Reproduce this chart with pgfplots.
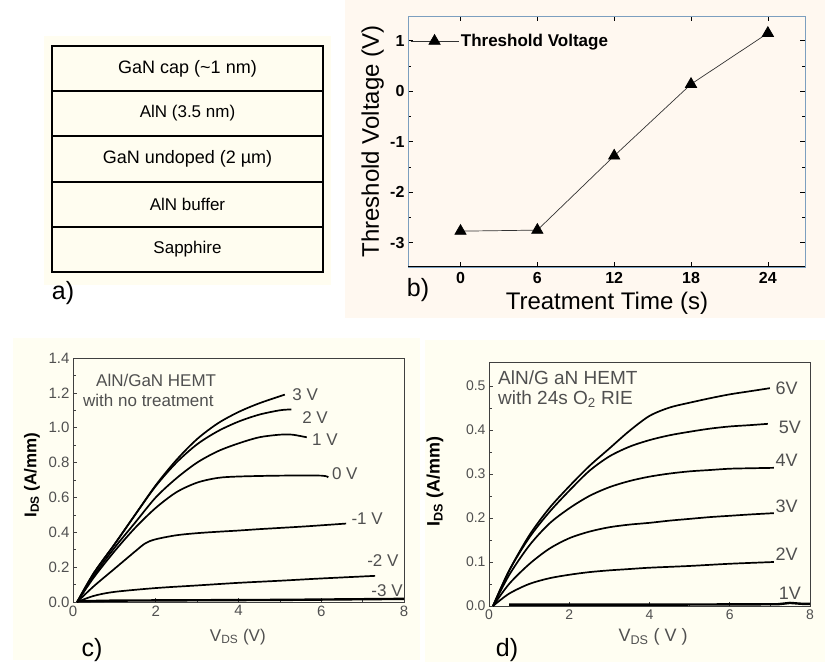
\documentclass[border=0pt]{standalone}
\usepackage{pgfplots}
\pgfplotsset{compat=1.18}
\usepackage{fontspec}
\setmainfont{Liberation Sans}
\newcommand\fs[1]{\fontsize{#1}{#1}\selectfont}
\definecolor{creamA}{HTML}{FFFDF0}
\definecolor{creamB}{HTML}{FFF8F0}
\definecolor{creamC}{HTML}{FFFEF2}
\definecolor{axblue}{HTML}{7C9FBF}
\definecolor{tickgray}{HTML}{505050}
\pgfplotsset{iv/.style={black, line width=1.7pt, smooth, tension=0.5, no markers, solid}}
\begin{document}
\begin{tikzpicture}
% canvas
\fill[white] (0pt,0pt) rectangle (825pt,670pt);
\fill[creamA] (44pt,385pt) rectangle (331pt,634pt);
\fill[creamB] (345pt,352pt) rectangle (825pt,670pt);
\fill[creamC] (13pt,10pt) rectangle (420pt,332pt);
\fill[creamC] (425pt,8pt) rectangle (825pt,330pt);
% ---------- panel a (layer stack) ----------
\draw[line width=1.3pt] (52pt,398pt) rectangle (323pt,624pt);
\draw[line width=1.3pt] (52pt,579pt) -- (323pt,579pt);
\draw[line width=2pt] (52pt,534pt) -- (323pt,534pt);
\draw[line width=1.3pt] (52pt,488pt) -- (323pt,488pt);
\draw[line width=1.3pt] (52pt,443pt) -- (323pt,443pt);
\node[font=\fs{18}] at (187.5pt,601.5pt) {GaN cap (\textasciitilde1 nm)};
\node[font=\fs{17}] at (187.5pt,556.5pt) {AlN (3.5 nm)};
\node[font=\fs{18}] at (187.5pt,511pt) {GaN undoped (2 µm)};
\node[font=\fs{17}] at (187.5pt,465.5pt) {AlN buffer};
\node[font=\fs{17}] at (187.5pt,420.5pt) {Sapphire};
\node[font=\fs{25}] at (63pt,377pt) {a)};
% ---------- panel b ----------
\begin{axis}[at={(408pt,403pt)}, anchor=south west, scale only axis,
  width=397pt, height=251pt,
  xmin=-4.1, xmax=26.9, ymin=-3.48, ymax=1.49,
  xtick={0,6,12,18,24}, ytick={-3,-2,-1,0,1}, minor y tick num=1,
  tick align=inside, major tick length=5pt, minor tick length=3pt,
  axis line style={draw=axblue, line width=0.8pt},
  every tick/.style={black, line width=0.6pt},
  /pgf/number format/assume math mode=true,
  ticklabel style={font=\fs{16}\bfseries},
  xticklabel style={yshift=-2pt},
  xlabel={Treatment Time (s)}, ylabel={Threshold Voltage (V)},
  label style={font=\fs{24}},
  x label style={at={(axis description cs:0.501,-0.143)}, anchor=center},
  y label style={at={(axis description cs:-0.089,0.5)}, anchor=center},
  legend style={draw=none, fill=none, at={(0.0,0.9)}, anchor=west,
    font=\fs{17}\bfseries, inner xsep=2pt},
  legend cell align=left,
  legend image code/.code={\draw[mark repeat=2,mark phase=2] plot coordinates {(0pt,0pt) (24pt,0pt) (48pt,0pt)};},
]
\draw[black, line width=1pt] (rel axis cs:0,0) -- (rel axis cs:1,0);
\addplot[black!80, line width=0.7pt, mark=triangle*, mark size=6.5pt,
  mark options={solid, fill=black, draw=black}]
  coordinates {(0,-2.77) (6,-2.75) (12,-1.28) (18,0.14) (24,1.15)};
\addlegendentry{Threshold Voltage}
\end{axis}
\node[font=\fs{25}] at (418pt,380pt) {b)};
% ---------- panel c ----------
\begin{axis}[at={(73pt,68pt)}, anchor=south west, scale only axis,
  width=331pt, height=244pt,
  xmin=0, xmax=8, ymin=0, ymax=1.4,
  xtick={0,2,4,6,8}, ytick={0,0.2,0.4,0.6,0.8,1.0,1.2,1.4},
  minor x tick num=1, minor y tick num=1, tick pos=left,
  tick align=inside, major tick length=4pt, minor tick length=2.5pt,
  axis line style={draw=black!75, line width=0.9pt},
  every tick/.style={black!75, line width=0.6pt},
  /pgf/number format/assume math mode=true,
  ticklabel style={font=\fs{15}, text=tickgray},
  yticklabel style={/pgf/number format/.cd, fixed, fixed zerofill, precision=1},
  xlabel={V\textsubscript{DS} (V)}, ylabel={\bfseries I\textsubscript{DS} (A/mm)},
  label style={font=\fs{17}},
  x label style={text=tickgray, at={(axis description cs:0.498,-0.143)}, anchor=center},
  y label style={at={(axis description cs:-0.124,0.52)}, anchor=center},
  clip=true,
]
\addplot[iv] coordinates {(0.1,0)(0.5,0.165)(1,0.33)(1.5,0.50)(2,0.67)(2.5,0.815)(3,0.935)(3.5,1.025)(4,1.09)(4.5,1.14)(5.12,1.19)};
\addplot[iv] coordinates {(0.1,0)(0.5,0.165)(1,0.33)(1.5,0.50)(2,0.665)(2.5,0.80)(3,0.905)(3.5,0.98)(4,1.035)(4.5,1.075)(5,1.10)(5.28,1.105)};
\addplot[iv] coordinates {(0.1,0)(0.5,0.15)(1,0.31)(1.5,0.455)(2,0.60)(2.5,0.71)(3,0.80)(3.5,0.865)(4,0.91)(4.5,0.945)(5,0.96)(5.3,0.96)(5.65,0.945)};
\addplot[iv] coordinates {(0.1,0)(0.5,0.14)(1,0.29)(1.5,0.425)(2,0.54)(2.5,0.63)(3,0.685)(3.5,0.712)(4,0.72)(5,0.725)(6,0.725)(6.17,0.715)};
\addplot[iv] coordinates {(0.1,0)(0.5,0.09)(1,0.19)(1.5,0.29)(1.75,0.337)(2,0.36)(2.5,0.383)(3,0.395)(3.5,0.403)(4,0.41)(4.5,0.418)(5,0.425)(5.5,0.432)(6,0.44)(6.6,0.45)};
\addplot[iv] coordinates {(0.1,0)(0.5,0.035)(1,0.058)(2,0.08)(3,0.095)(4,0.11)(5,0.122)(6,0.135)(7.3,0.15)};
\addplot[iv, sharp plot, line width=2.4pt] coordinates {(0.1,0.004)(1,0.008)(3,0.01)(5,0.012)(7,0.016)(8,0.018)};
\node[font=\fs{17}, text=tickgray] at (axis cs:5.61,1.188) {3 V};
\node[font=\fs{17}, text=tickgray] at (axis cs:5.85,1.061) {2 V};
\node[font=\fs{17}, text=tickgray] at (axis cs:6.09,0.929) {1 V};
\node[font=\fs{17}, text=tickgray] at (axis cs:6.57,0.734) {0 V};
\node[font=\fs{17}, text=tickgray] at (axis cs:7.11,0.476) {-1 V};
\node[font=\fs{17}, text=tickgray] at (axis cs:7.49,0.235) {-2 V};
\node[font=\fs{17}, text=tickgray] at (axis cs:7.59,0.063) {-3 V};
\end{axis}
\node[font=\fs{17}, text=tickgray, anchor=west, inner sep=0pt] at (96pt,290pt) {AlN/GaN HEMT};
\node[font=\fs{17}, text=tickgray, anchor=west, inner sep=0pt] at (83pt,270pt) {with no treatment};
\node[font=\fs{25}] at (92pt,20pt) {c)};
% ---------- panel d ----------
\begin{axis}[at={(489pt,64pt)}, anchor=south west, scale only axis,
  width=321pt, height=244pt,
  xmin=0, xmax=8, ymin=0, ymax=0.5545,
  xtick={0,2,4,6,8}, ytick={0,0.1,0.2,0.3,0.4,0.5},
  minor x tick num=1, minor y tick num=1, tick pos=left,
  tick align=inside, major tick length=4pt, minor tick length=2.5pt,
  axis line style={draw=black!75, line width=0.9pt},
  every tick/.style={black!75, line width=0.6pt},
  /pgf/number format/assume math mode=true,
  ticklabel style={font=\fs{14}, text=tickgray},
  yticklabel style={/pgf/number format/.cd, fixed, fixed zerofill, precision=1},
  xlabel={V\textsubscript{DS} ( V )}, ylabel={\bfseries I\textsubscript{DS} (A/mm)},
  label style={font=\fs{18}},
  x label style={text=tickgray, at={(axis description cs:0.511,-0.127)}, anchor=center},
  y label style={at={(axis description cs:-0.168,0.51)}, anchor=center},
  clip=true,
]
\addplot[iv] coordinates {(0.1,0)(0.5,0.08)(1,0.16)(1.5,0.222)(2,0.272)(2.5,0.318)(3,0.358)(3.5,0.398)(4,0.432)(4.5,0.451)(5,0.462)(5.5,0.472)(6,0.481)(6.5,0.488)(7,0.495)};
\addplot[iv] coordinates {(0.1,0)(0.5,0.08)(1,0.155)(1.5,0.213)(2,0.262)(2.5,0.307)(3,0.34)(3.5,0.362)(4,0.377)(4.5,0.388)(5,0.396)(5.5,0.403)(6,0.408)(6.5,0.411)(6.95,0.414)};
\addplot[iv] coordinates {(0.1,0)(0.5,0.07)(1,0.137)(1.5,0.187)(2,0.222)(2.5,0.25)(3,0.27)(3.5,0.284)(4,0.294)(4.5,0.301)(5,0.306)(5.5,0.309)(6,0.312)(6.5,0.313)(7.1,0.314)};
\addplot[iv] coordinates {(0.1,0)(0.5,0.05)(1,0.095)(1.5,0.13)(2,0.154)(2.5,0.169)(3,0.179)(3.5,0.185)(4,0.189)(4.5,0.194)(5,0.198)(5.5,0.202)(6,0.205)(6.5,0.208)(7.1,0.211)};
\addplot[iv] coordinates {(0.1,0)(0.5,0.028)(1,0.05)(1.5,0.063)(2,0.071)(2.5,0.077)(3,0.081)(3.5,0.084)(4,0.087)(5,0.091)(6,0.096)(7.1,0.1)};
\addplot[iv, sharp plot, line width=2.4pt] coordinates {(0.5,0.003)(2,0.003)(4,0.003)(7.2,0.004)(7.5,0.007)(7.8,0.005)(8,0.005)};
\node[font=\fs{18}, text=tickgray] at (axis cs:7.42,0.495) {6V};
\node[font=\fs{18}, text=tickgray] at (axis cs:7.50,0.405) {5V};
\node[font=\fs{18}, text=tickgray] at (axis cs:7.42,0.332) {4V};
\node[font=\fs{18}, text=tickgray] at (axis cs:7.42,0.226) {3V};
\node[font=\fs{18}, text=tickgray] at (axis cs:7.42,0.118) {2V};
\node[font=\fs{18}, text=tickgray] at (axis cs:7.50,0.029) {1V};
\end{axis}
\node[font=\fs{19}, text=tickgray, anchor=west, inner sep=0pt] at (498pt,292pt) {AlN/G aN HEMT};
\node[font=\fs{19}, text=tickgray, anchor=west, inner sep=0pt] at (498pt,271pt) {with 24s O\textsubscript{2} RIE};
\node[font=\fs{25}] at (507pt,20pt) {d)};
\end{tikzpicture}
\end{document}
